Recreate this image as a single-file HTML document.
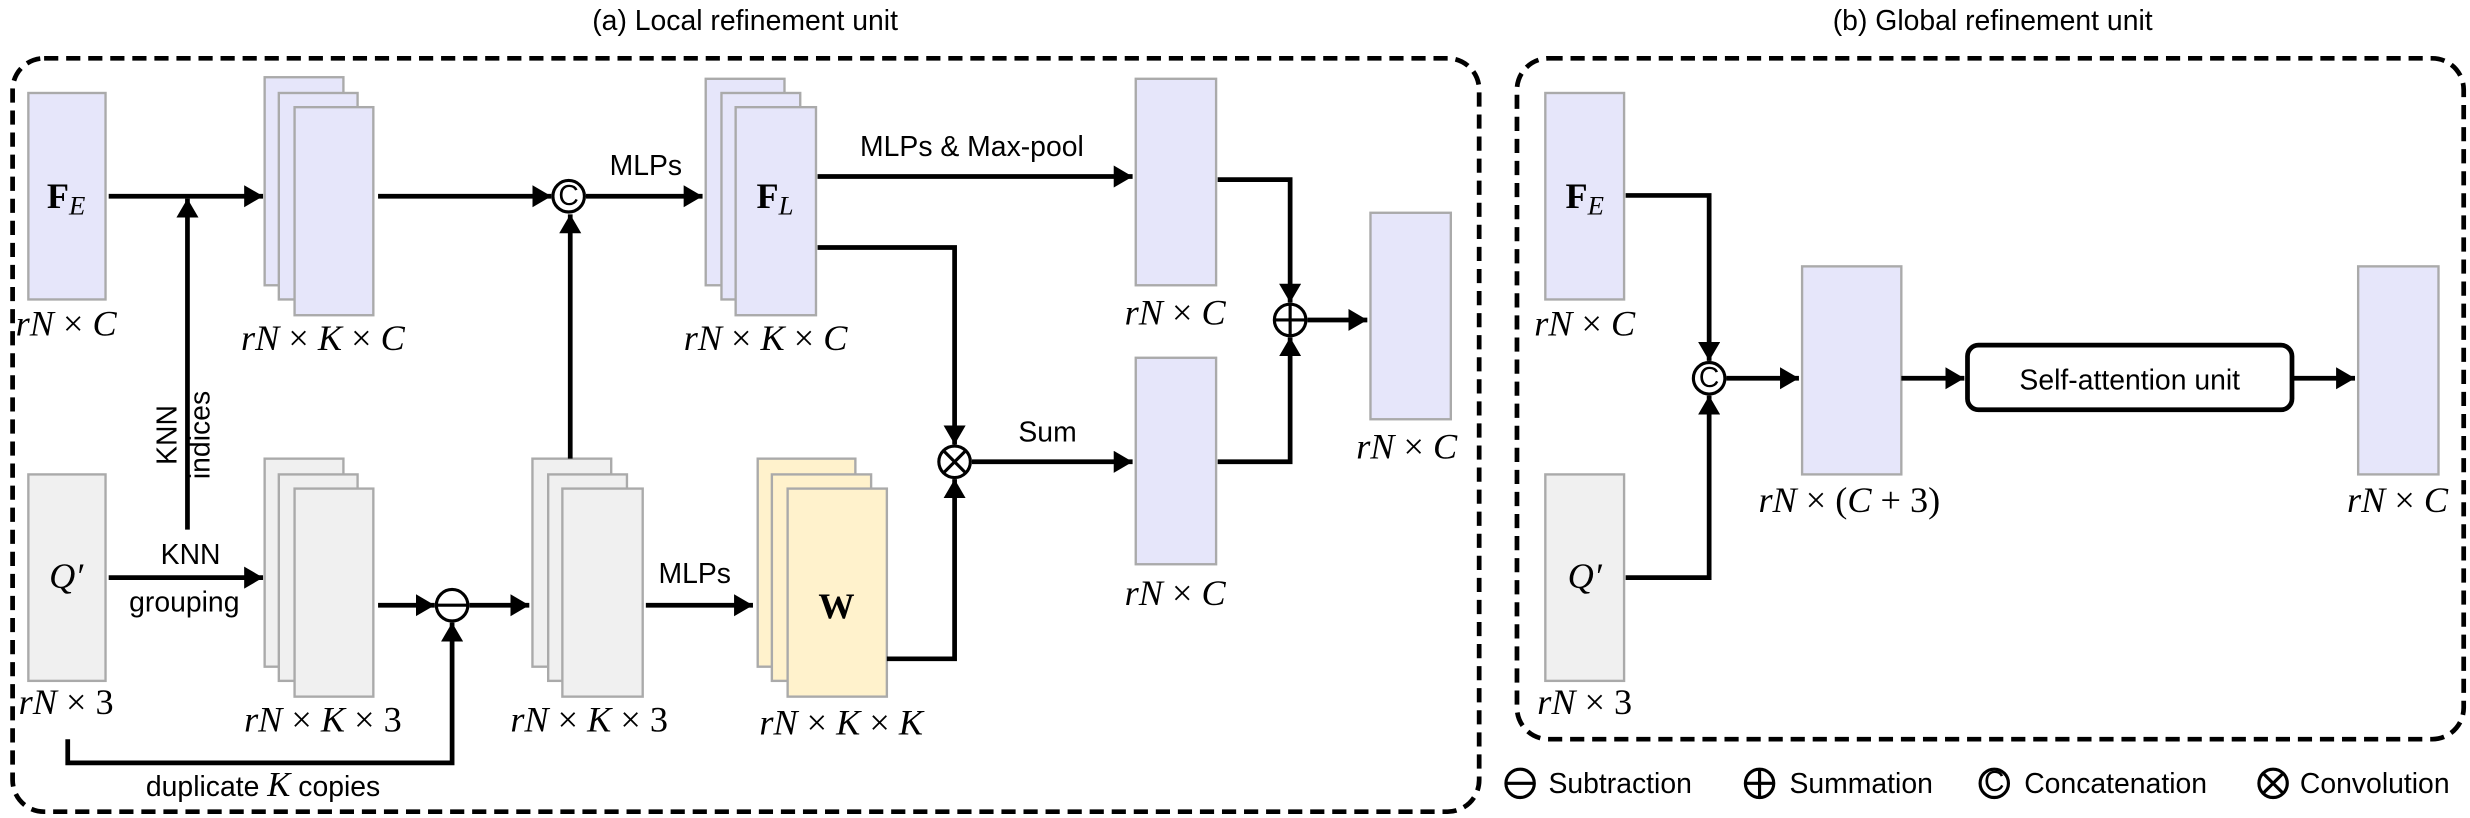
<!DOCTYPE html>
<html><head><meta charset="utf-8"><style>
html,body{margin:0;padding:0;background:#fff}
svg{display:block}
.s{font-family:"Liberation Sans",sans-serif;font-size:18px;fill:#000}
.m{font-family:"Liberation Serif",serif;font-size:23px;fill:#000}
.i{font-style:italic}
.b{fill:#e6e6fa;stroke:#aaa;stroke-width:1.5}
.g{fill:#f0f0f0;stroke:#aaa;stroke-width:1.5}
.y{fill:#fff2cc;stroke:#aaa;stroke-width:1.5}
.l{fill:none;stroke:#000;stroke-width:3}
.c{fill:#fff;stroke:#000;stroke-width:2}
</style></head><body>
<svg width="2470" height="818" viewBox="0 0 1568 519" preserveAspectRatio="none" xmlns="http://www.w3.org/2000/svg">
<defs><marker id="a" markerUnits="userSpaceOnUse" markerWidth="12" markerHeight="14" refX="12" refY="7" orient="auto"><path d="M0,0L12,7L0,14z" fill="#000"/></marker></defs>

<text class="s" x="473" y="19" text-anchor="middle" font-size="19">(a) Local refinement unit</text>
<text class="s" x="1265" y="19" text-anchor="middle" font-size="19">(b) Global refinement unit</text>
<rect x="8" y="37" width="931" height="478" rx="20" fill="none" stroke="#000" stroke-width="3" stroke-dasharray="9,5"/>
<rect x="963" y="37" width="601" height="432" rx="20" fill="none" stroke="#000" stroke-width="3" stroke-dasharray="9,5"/>

<rect class="b" x="18" y="59" width="49" height="131"/>
<text class="m" x="42" y="132" text-anchor="middle" font-weight="bold" font-size="25">F<tspan class="i" font-weight="normal" font-size="17" dy="4">E</tspan></text>
<text class="m" x="42" y="213" text-anchor="middle"><tspan class="i">rN</tspan> × <tspan class="i">C</tspan></text>
<rect class="g" x="18" y="301" width="49" height="131"/>
<text class="m i" x="42" y="373" text-anchor="middle">Q′</text>
<text class="m" x="42" y="453" text-anchor="middle"><tspan class="i">rN</tspan> × 3</text>

<rect class="b" x="168" y="49" width="50" height="132"/>
<rect class="b" x="177" y="59" width="50" height="131"/>
<rect class="b" x="187" y="68" width="50" height="132"/>
<text class="m" x="205" y="222" text-anchor="middle"><tspan class="i">rN</tspan> × <tspan class="i">K</tspan> × <tspan class="i">C</tspan></text>
<rect class="g" x="168" y="291" width="50" height="132"/>
<rect class="g" x="177" y="301" width="50" height="131"/>
<rect class="g" x="187" y="310" width="50" height="132"/>
<text class="m" x="205" y="464" text-anchor="middle"><tspan class="i">rN</tspan> × <tspan class="i">K</tspan> × 3</text>
<rect class="g" x="338" y="291" width="50" height="132"/>
<rect class="g" x="348" y="301" width="50" height="131"/>
<rect class="g" x="357" y="310" width="51" height="132"/>
<text class="m" x="374" y="464" text-anchor="middle"><tspan class="i">rN</tspan> × <tspan class="i">K</tspan> × 3</text>
<rect class="b" x="448" y="50" width="50" height="131"/>
<rect class="b" x="458" y="59" width="50" height="131"/>
<rect class="b" x="467" y="68" width="51" height="132"/>
<text class="m" x="492" y="132" text-anchor="middle" font-weight="bold" font-size="25">F<tspan class="i" font-weight="normal" font-size="17" dy="4">L</tspan></text>
<text class="m" x="486" y="222" text-anchor="middle"><tspan class="i">rN</tspan> × <tspan class="i">K</tspan> × <tspan class="i">C</tspan></text>
<rect class="y" x="481" y="291" width="62" height="132"/>
<rect class="y" x="490" y="301" width="63" height="131"/>
<rect class="y" x="500" y="310" width="63" height="132"/>
<text class="m" x="531" y="392" text-anchor="middle" font-weight="bold">W</text>
<text class="m" x="534" y="466" text-anchor="middle"><tspan class="i">rN</tspan> × <tspan class="i">K</tspan> × <tspan class="i">K</tspan></text>
<rect class="b" x="721" y="50" width="51" height="131"/>
<text class="m" x="746" y="206" text-anchor="middle"><tspan class="i">rN</tspan> × <tspan class="i">C</tspan></text>
<rect class="b" x="721" y="227" width="51" height="131"/>
<text class="m" x="746" y="384" text-anchor="middle"><tspan class="i">rN</tspan> × <tspan class="i">C</tspan></text>
<rect class="b" x="870" y="135" width="51" height="131"/>
<text class="m" x="893" y="291" text-anchor="middle"><tspan class="i">rN</tspan> × <tspan class="i">C</tspan></text>

<line class="l" x1="69" y1="124.5" x2="167" y2="124.5" marker-end="url(#a)"/>
<line class="l" x1="119" y1="336" x2="119" y2="126" marker-end="url(#a)"/>
<text class="s" transform="translate(112,276) rotate(-90)" text-anchor="middle" font-size="19">KNN</text>
<text class="s" transform="translate(133,276) rotate(-90)" text-anchor="middle" font-size="19">indices</text>
<line class="l" x1="240" y1="124.5" x2="350" y2="124.5" marker-end="url(#a)"/>
<line class="l" x1="362" y1="291" x2="362" y2="136" marker-end="url(#a)"/>
<circle class="c" cx="361" cy="124.5" r="10"/>
<text class="s" x="361" y="130" text-anchor="middle" font-size="14">C</text>
<line class="l" x1="372" y1="124.5" x2="446" y2="124.5" marker-end="url(#a)"/>
<text class="s" x="410" y="111" text-anchor="middle" font-size="19">MLPs</text>
<line class="l" x1="519" y1="112" x2="719" y2="112" marker-end="url(#a)"/>
<text class="s" x="617" y="99" text-anchor="middle" font-size="19">MLPs &amp; Max-pool</text>
<polyline class="l" points="519,157 606,157 606,282" marker-end="url(#a)"/>
<polyline class="l" points="563,418 606,418 606,304" marker-end="url(#a)"/>
<circle class="c" cx="606" cy="293" r="10"/>
<path d="M599,286L613,300M613,286L599,300" stroke="#000" stroke-width="2"/>
<line class="l" x1="617" y1="293" x2="719" y2="293" marker-end="url(#a)"/>
<text class="s" x="665" y="280" text-anchor="middle" font-size="19">Sum</text>
<line class="l" x1="69" y1="366.5" x2="167" y2="366.5" marker-end="url(#a)"/>
<text class="s" x="121" y="358" text-anchor="middle" font-size="19">KNN</text>
<text class="s" x="117" y="388" text-anchor="middle" font-size="19">grouping</text>
<line class="l" x1="240" y1="384" x2="276" y2="384" marker-end="url(#a)"/>
<circle class="c" cx="287" cy="384" r="10"/>
<line x1="277" y1="384" x2="297" y2="384" stroke="#000" stroke-width="2"/>
<line class="l" x1="298" y1="384" x2="336" y2="384" marker-end="url(#a)"/>
<polyline class="l" points="43,469 43,484 287,484 287,395" marker-end="url(#a)"/>
<text class="s" x="167" y="505" text-anchor="middle" font-size="19"><tspan>duplicate </tspan><tspan class="i" font-family="Liberation Serif" font-size="22">K</tspan><tspan> copies</tspan></text>
<line class="l" x1="410" y1="384" x2="478" y2="384" marker-end="url(#a)"/>
<text class="s" x="441" y="370" text-anchor="middle" font-size="19">MLPs</text>
<polyline class="l" points="773,114 819,114 819,192" marker-end="url(#a)"/>
<polyline class="l" points="773,293 819,293 819,214" marker-end="url(#a)"/>
<circle class="c" cx="819" cy="203" r="10"/>
<path d="M809,203H829M819,193V213" stroke="#000" stroke-width="2"/>
<line class="l" x1="830" y1="203" x2="868" y2="203" marker-end="url(#a)"/>

<rect class="b" x="981" y="59" width="50" height="131"/>
<text class="m" x="1006" y="132" text-anchor="middle" font-weight="bold" font-size="25">F<tspan class="i" font-weight="normal" font-size="17" dy="4">E</tspan></text>
<text class="m" x="1006" y="213" text-anchor="middle"><tspan class="i">rN</tspan> × <tspan class="i">C</tspan></text>
<rect class="g" x="981" y="301" width="50" height="131"/>
<text class="m i" x="1006" y="373" text-anchor="middle">Q′</text>
<text class="m" x="1006" y="453" text-anchor="middle"><tspan class="i">rN</tspan> × 3</text>
<polyline class="l" points="1032,124 1085,124 1085,229" marker-end="url(#a)"/>
<polyline class="l" points="1032,366.5 1085,366.5 1085,251" marker-end="url(#a)"/>
<circle class="c" cx="1085" cy="240" r="10"/>
<text class="s" x="1085" y="245.5" text-anchor="middle" font-size="14">C</text>
<line class="l" x1="1096" y1="240" x2="1142" y2="240" marker-end="url(#a)"/>
<rect class="b" x="1144" y="169" width="63" height="132"/>
<text class="m" x="1174" y="325" text-anchor="middle"><tspan class="i">rN</tspan> × (<tspan class="i">C</tspan> + 3)</text>
<line class="l" x1="1207" y1="240" x2="1247" y2="240" marker-end="url(#a)"/>
<rect x="1249" y="219" width="206" height="41" rx="7" fill="#fff" stroke="#000" stroke-width="3"/>
<text class="s" x="1352" y="247" text-anchor="middle" font-size="20">Self-attention unit</text>
<line class="l" x1="1455" y1="240" x2="1495" y2="240" marker-end="url(#a)"/>
<rect class="b" x="1497" y="169" width="51" height="132"/>
<text class="m" x="1522" y="325" text-anchor="middle"><tspan class="i">rN</tspan> × <tspan class="i">C</tspan></text>

<circle class="c" cx="965" cy="497" r="9"/><line x1="956" y1="497" x2="974" y2="497" stroke="#000" stroke-width="2"/>
<text class="s" x="983" y="503">Subtraction</text>
<circle class="c" cx="1117" cy="497" r="9"/><path d="M1108,497H1126M1117,488V506" stroke="#000" stroke-width="2"/>
<text class="s" x="1136" y="503">Summation</text>
<circle class="c" cx="1266" cy="497" r="9"/><text class="s" x="1266" y="502" text-anchor="middle" font-size="13">C</text>
<text class="s" x="1285" y="503">Concatenation</text>
<circle class="c" cx="1443" cy="497" r="9"/><path d="M1437,491L1449,503M1449,491L1437,503" stroke="#000" stroke-width="2"/>
<text class="s" x="1460" y="503">Convolution</text>
</svg>
</body></html>
